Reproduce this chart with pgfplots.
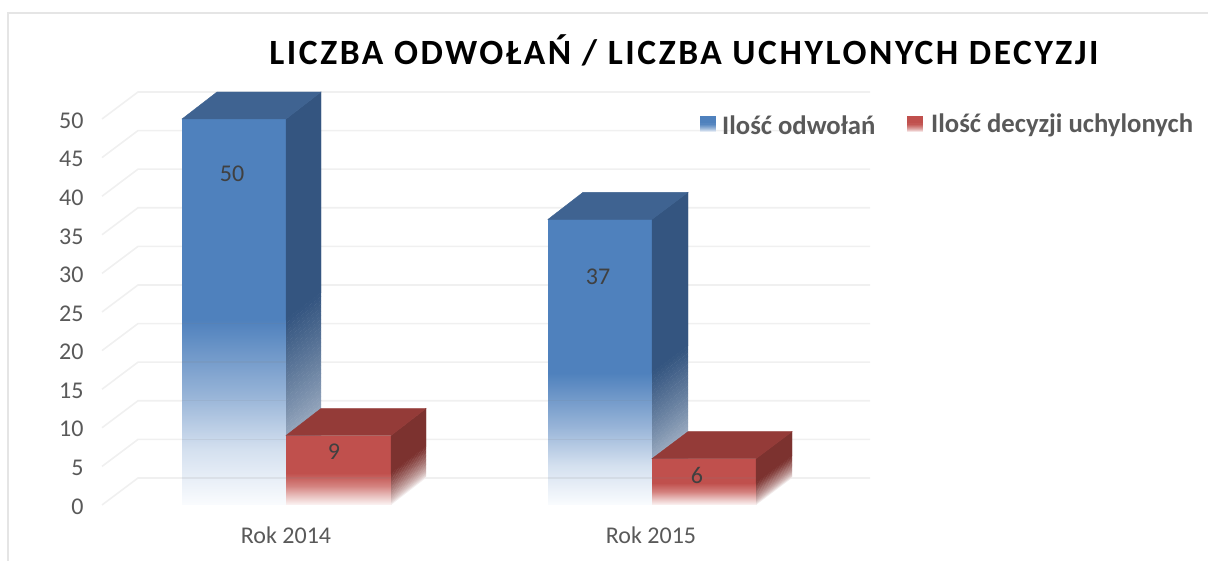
\documentclass[border=0pt]{standalone}
\usepackage{fontspec}
\setmainfont{Carlito}
\newfontfamily\titlefont[LetterSpace=7.2]{Carlito}
\usepackage{pgfplots}
\usepgfplotslibrary{patchplots}
\pgfplotsset{compat=1.18}
\definecolor{tick}{HTML}{595959}
\definecolor{gridc}{HTML}{F0F0F0}
\definecolor{bluetop}{HTML}{3F6391}
\definecolor{redtop}{HTML}{943B38}
\definecolor{sideblue}{HTML}{345580}
\definecolor{sidered}{HTML}{7C322F}
\definecolor{frontblue}{HTML}{4F81BD}
\definecolor{frontred}{HTML}{C0504D}
\definecolor{lab}{HTML}{404040}
\pgfplotsset{
  colormap={bluefront}{rgb255(0cm)=(250,252,254); rgb255(3cm)=(212,224,239); rgb255(6cm)=(150,179,215); rgb255(10cm)=(79,129,189)},
  colormap={redfront}{rgb255(0cm)=(252,245,245); rgb255(3cm)=(232,190,188); rgb255(6cm)=(212,130,127); rgb255(10cm)=(192,80,77)},
}
% slices of a fading face: xa xb baseA baseB length colour slices
\newcommand\fadeface[7]{%
  \pgfplotsforeachungrouped \i in {1,...,#7}{%
    \pgfmathsetmacro\ya{#3+#5*(\i-1)/#7}%
    \pgfmathsetmacro\yb{#4+#5*(\i-1)/#7}%
    \pgfmathsetmacro\yat{#3+#5*\i/#7+0.04}%
    \pgfmathsetmacro\ybt{#4+#5*\i/#7+0.04}%
    \pgfmathsetmacro\p{100*((\i-0.5)/#7)^0.65}%
    \edef\tmp{\noexpand\addplot[fill=#6!\p!white,draw=none,forget plot] coordinates {(#1,\ya)(#2,\yb)(#2,\ybt)(#1,\yat)} -- cycle;}\tmp
  }%
}
% value tables: x (pixel-like), y (value units), m (colour position); triangles
\pgfplotstableread{
x y m
182 0 0
286 0 0
286 24 1
182 0 0
286 24 1
182 24 1
182 24 1
286 24 1
286 50 1
182 24 1
286 50 1
182 50 1
548 0 0
652 0 0
652 17.1 1
548 0 0
652 17.1 1
548 17.1 1
548 17.1 1
652 17.1 1
652 37 1
548 17.1 1
652 37 1
548 37 1
}\bluefront
\pgfplotstableread{
x y m
286 0 0
391 0 0
391 4.1 1
286 0 0
391 4.1 1
286 4.1 1
286 4.1 1
391 4.1 1
391 9 1
286 4.1 1
391 9 1
286 9 1
652 0 0
756 0 0
756 2.85 1
652 0 0
756 2.85 1
652 2.85 1
652 2.85 1
756 2.85 1
756 6 1
652 2.85 1
756 6 1
652 6 1
}\redfront
\pgfplotstableread{
x y
102 0
138 3.5
870 3.5
nan nan
102 5
138 8.5
870 8.5
nan nan
102 10
138 13.5
870 13.5
nan nan
102 15
138 18.5
870 18.5
nan nan
102 20
138 23.5
870 23.5
nan nan
102 25
138 28.5
870 28.5
nan nan
102 30
138 33.5
870 33.5
nan nan
102 35
138 38.5
870 38.5
nan nan
102 40
138 43.5
870 43.5
nan nan
102 45
138 48.5
870 48.5
nan nan
102 50
138 53.5
870 53.5
}\gridtab
\pgfplotstableread{
x y
182 3.5
286 3.5
nan nan
182 8.5
286 8.5
nan nan
182 13.5
286 13.5
nan nan
182 18.5
286 18.5
nan nan
182 23.5
286 23.5
nan nan
548 3.5
652 3.5
nan nan
548 8.5
652 8.5
nan nan
548 13.5
652 13.5
nan nan
286 3.5
391 3.5
nan nan
652 3.5
756 3.5
}\overlaytab
\begin{document}
\begin{tikzpicture}[x=1pt,y=1pt]
\path[use as bounding box] (0,0) rectangle (1208,561);
\draw[color=gray!20,line width=1.5pt] (8,0) -- (8,548) -- (1208,548);
\begin{axis}[
  at={(102pt,56pt)}, anchor=south west,
  scale only axis, width=768pt, height=386pt,
  xmin=102, xmax=870, ymin=0, ymax=50, clip=false,
  axis line style={draw=none}, tick style={draw=none},
  xtick={286,651}, xticklabels={Rok 2014,Rok 2015},
  ytick={0,5,...,50},
  ticklabel style={font=\fontsize{24}{26}\selectfont, text=tick},
  /pgf/number format/assume math mode=true,
  xticklabel style={yshift=-18pt},
  yticklabel style={xshift=-15pt,yshift=-1.5pt},
  point meta min=0, point meta max=1,
  unbounded coords=jump,
]
\addplot[gridc, line width=1.6pt, no markers] table[x=x,y=y] {\gridtab};
% blue, 2014 and 2015
\addplot[patch, shader=interp, colormap name=bluefront] table[x=x,y=y,meta=m] {\bluefront};
\addplot[fill=sideblue, draw=sideblue, line width=0.4pt] coordinates {(286,24)(321,27.5)(321,53.5)(286,50)} -- cycle;
\fadeface{286}{321}{0}{3.5}{24}{sideblue}{48}
\addplot[fill=sideblue, draw=sideblue, line width=0.4pt] coordinates {(652,17.1)(688,20.6)(688,40.5)(652,37)} -- cycle;
\fadeface{652}{688}{0}{3.5}{17.1}{sideblue}{36}
\addplot[fill=bluetop, draw=bluetop, line width=0.4pt] coordinates {(182,50)(217,53.5)(321,53.5)(286,50)} -- cycle;
\addplot[fill=bluetop, draw=bluetop, line width=0.4pt] coordinates {(548,37)(583,40.5)(688,40.5)(652,37)} -- cycle;
% red, 2014 and 2015
\addplot[patch, shader=interp, colormap name=redfront] table[x=x,y=y,meta=m] {\redfront};
\addplot[fill=sidered, draw=sidered, line width=0.4pt] coordinates {(391,4.1)(426,7.6)(426,12.5)(391,9)} -- cycle;
\fadeface{391}{426}{0}{3.5}{4.1}{sidered}{24}
\addplot[fill=sidered, draw=sidered, line width=0.4pt] coordinates {(756,2.85)(792,6.35)(792,9.5)(756,6)} -- cycle;
\fadeface{756}{792}{0}{3.5}{2.85}{sidered}{18}
\addplot[fill=redtop, draw=redtop, line width=0.4pt] coordinates {(286,9)(321,12.5)(426,12.5)(391,9)} -- cycle;
\addplot[fill=redtop, draw=redtop, line width=0.4pt] coordinates {(652,6)(688,9.5)(792,9.5)(756,6)} -- cycle;
\addplot[gray, opacity=0.12, line width=1.4pt, no markers] table[x=x,y=y] {\overlaytab};
% legend keys
\addplot[fill=frontblue, draw=none] coordinates {(700,49.4)(716,49.4)(716,50.4)(700,50.4)} -- cycle;
\fadeface{700}{716}{48.3}{48.3}{1.1}{frontblue}{8}
\addplot[fill=frontred, draw=none] coordinates {(907,49.4)(923,49.4)(923,50.4)(907,50.4)} -- cycle;
\fadeface{907}{923}{48.3}{48.3}{1.1}{frontred}{8}
\node[text=lab, font=\fontsize{24}{26}\selectfont] at (axis cs:232,42.9) {50};
\node[text=lab, font=\fontsize{24}{26}\selectfont] at (axis cs:334,6.9) {9};
\node[text=lab, font=\fontsize{24}{26}\selectfont] at (axis cs:598,29.5) {37};
\node[text=lab, font=\fontsize{24}{26}\selectfont] at (axis cs:697,3.8) {6};
\node[anchor=west, inner sep=0pt, text=tick, font=\fontsize{26.7}{30}\selectfont\bfseries] at (axis cs:722,49.2) {Ilość odwołań};
\node[anchor=west, inner sep=0pt, text=tick, font=\fontsize{26.7}{30}\selectfont\bfseries] at (axis cs:931,49.2) {Ilość decyzji uchylonych};
\node[text=black, font=\fontsize{35.5}{40}\selectfont\bfseries\titlefont] at (axis cs:684,58.9) {LICZBA ODWOŁAŃ / LICZBA UCHYLONYCH DECYZJI};
\end{axis}
\end{tikzpicture}
\end{document}
